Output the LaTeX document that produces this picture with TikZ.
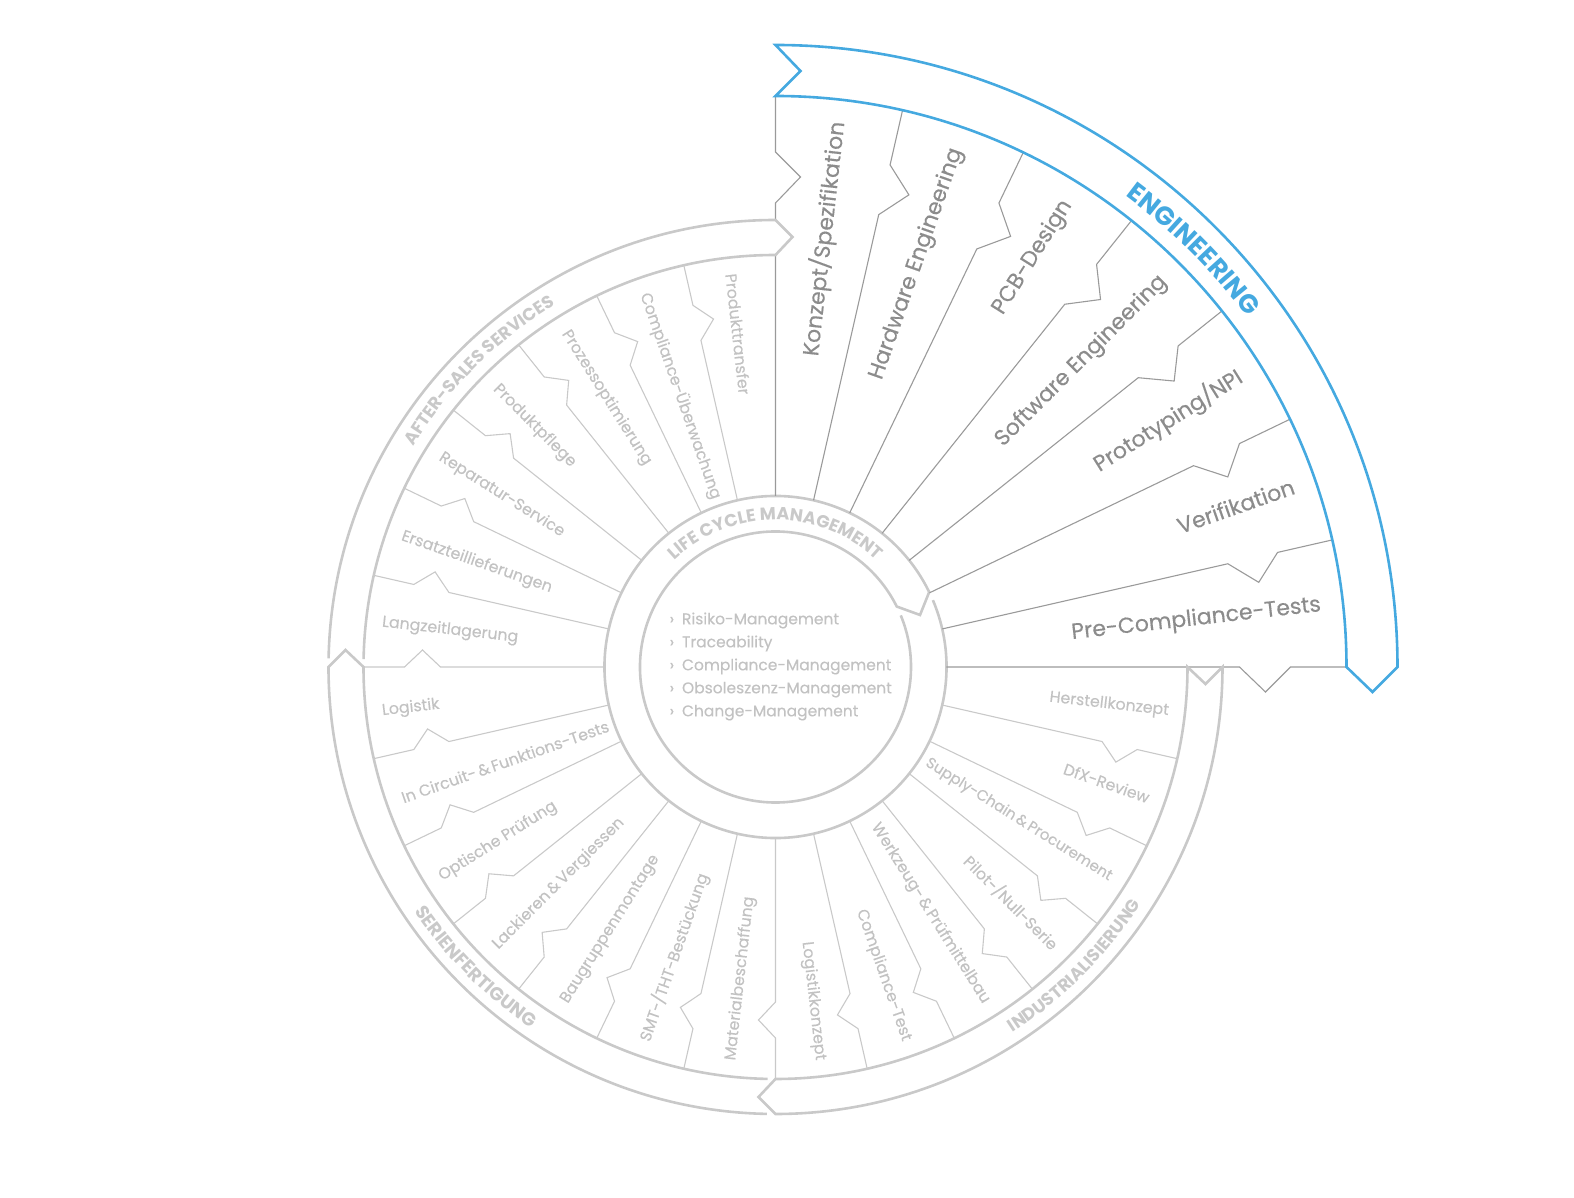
\documentclass[tikz,border=0pt]{standalone}
\usepackage{fontspec}
\setmainfont{Poppins}
\newfontfamily\medfont{Poppins}[FakeBold=0.35]
\usetikzlibrary{decorations.text, calc}
\definecolor{eblue}{HTML}{45A9E0}
\definecolor{etext}{HTML}{8C8C8C}
\definecolor{erl}{HTML}{9A9A9A}
\definecolor{gtext}{HTML}{C2C2C2}
\definecolor{rule}{HTML}{C9C9C9}
\newcommand{\amp}{\hspace{2.5pt}\&\hspace{2.5pt}}

\begin{document}
\begin{tikzpicture}[
  x=1pt, y=1pt,
  band/.style ={draw=rule, line width=2.6pt, line join=miter},
  eband/.style={draw=eblue, line width=2.6pt, line join=miter},
  erule/.style={draw=erl, line width=1.1pt},
  grule/.style={draw=rule, line width=1.1pt},
  elbl/.style ={font=\medfont\fontsize{22}{26}\selectfont, text=etext, inner sep=0pt},
  glbl/.style ={font=\medfont\fontsize{15.8}{19}\selectfont, text=gtext, inner sep=0pt},
  ctext/.style={font=\medfont\fontsize{15.5}{23}\selectfont, text=gtext, inner sep=0pt, align=left},
  arctext/.style={decorate, decoration={text along path, text align=center}}
]
\useasboundingbox (-775.5,-531) rectangle (798.5,667);

% life cycle ring, open where the arrow tip comes round
\draw[band] (23:171) arc[start angle=23, end angle=-334, radius=171]
  -- (-340.2:153.6) -- (-333.5:135.5)
  arc[start angle=-333.5, end angle=22.4, radius=135.5];

% dividers of the three grey phases
\foreach \k in {1,...,20}
  \draw[grule, rotate=-90/7*\k] (171,0) -- (335,0) -- (353,-17) -- (371,0) -- (412,0);

% dividers of engineering
\draw[erule, rotate=90] (171,0) -- (412,0) (447,0) -- (464,0) -- (490,-25) -- (515,0) -- (571,0);
\foreach \k in {1,...,7}
  \draw[erule, rotate=90-90/7*\k] (171,0) -- (464,0) -- (490,-25) -- (515,0) -- (571,0);

% phase bands
\draw[eband] (90:622) arc[start angle=90, end angle=0, radius=622] -- (597,-25)
  -- (0:571) arc[start angle=0, end angle=90, radius=571] -- (25,596) -- cycle;
\draw[band] (0:447) arc[start angle=0, end angle=-90, radius=447] -- (-17,-430)
  -- (-90:412) arc[start angle=-90, end angle=0, radius=412] -- (430,-17) -- cycle;
\draw[band] (-91.1:447) arc[start angle=-91.1, end angle=-180, radius=447] -- (-430,17)
  -- (-180:412) arc[start angle=-180, end angle=-91.1, radius=412];
\draw[band] (178.9:447) arc[start angle=178.9, end angle=90, radius=447] -- (17,430)
  -- (90:412) arc[start angle=90, end angle=178.9, radius=412];

% phase titles
\path[arctext, decoration={text={|\color{eblue}\bfseries\fontsize{26}{26}\selectfont|ENGINEERING}}]
  (80:587) arc[start angle=80, end angle=10, radius=587];
\path[arctext, decoration={text={|\color{rule}\bfseries\fontsize{17.5}{17.5}\selectfont|AFTER-SALES SERVICES}}]
  (170:424) arc[start angle=170, end angle=100, radius=424];
\path[arctext, decoration={text={|\color{rule}\bfseries\fontsize{17.5}{17.5}\selectfont|INDUSTRIALISIERUNG}}]
  (-80:436) arc[start angle=-80, end angle=-10, radius=436];
\path[arctext, decoration={text={|\color{rule}\bfseries\fontsize{18.5}{18.5}\selectfont|SERIENFERTIGUNG}}]
  (-170:436) arc[start angle=-170, end angle=-100, radius=436];
\path[arctext, decoration={text={|\color{rule}\bfseries\fontsize{17.5}{17.5}\selectfont|LIFE CYCLE MANAGEMENT}}]
  (150:147) arc[start angle=150, end angle=30, radius=147];

% engineering
\node[elbl, rotate=83.57, anchor=east] (konzept)  at (83.57:549) {Konzept/Spezifikation};
\node[elbl, rotate=70.71, anchor=east] (hardware) at (70.71:549) {Hardware Engineering};
\node[elbl, rotate=57.86, anchor=east] (pcb)      at (57.86:549) {PCB-Design};
\node[elbl, rotate=45,    anchor=east] (software) at (45:549)    {Software Engineering};
\node[elbl, rotate=32.14, anchor=east] (proto)    at (32.14:549) {Prototyping/NPI};
\node[elbl, rotate=19.29, anchor=east] (verif)    at (19.29:549) {Verifikation};
\node[elbl, rotate=6.43,  anchor=east] (precomp)  at (6.43:549)  {Pre-Compliance-Tests};

% industrialisierung
\node[glbl, rotate=-6.43,  anchor=east] (herstell) at (-6.43:396)  {Herstellkonzept};
\node[glbl, rotate=-19.29, anchor=east] (dfx)      at (-19.29:396) {DfX-Review};
\node[glbl, rotate=-32.14, anchor=east, font=\medfont\fontsize{15}{18}\selectfont]
  (supply) at (-32.14:396) {Supply-Chain\amp Procurement};
\node[glbl, rotate=-45,    anchor=east] (pilot)    at (-45:396)    {Pilot-/Null-Serie};
\node[glbl, rotate=-57.86, anchor=east] (werkzeug) at (-57.86:396) {Werkzeug-\amp Prüfmittelbau};
\node[glbl, rotate=-70.71, anchor=east] (comptest) at (-70.71:396) {Compliance-Test};
\node[glbl, rotate=-83.57, anchor=east] (logkon)   at (-83.57:396) {Logistikkonzept};

% serienfertigung
\node[glbl, rotate=83.57, anchor=west] (material) at (-96.43:396)  {Materialbeschaffung};
\node[glbl, rotate=70.71, anchor=west] (smt)      at (-109.29:396) {SMT-/THT-Bestückung};
\node[glbl, rotate=57.86, anchor=west] (baugr)    at (-122.14:396) {Baugruppenmontage};
\node[glbl, rotate=45,    anchor=west] (lack)     at (-135:396)    {Lackieren\amp Vergiessen};
\node[glbl, rotate=32.14, anchor=west] (optisch)  at (-147.86:396) {Optische Prüfung};
\node[glbl, rotate=19.29, anchor=west] (incirc)   at (-160.71:396) {In Circuit-\amp Funktions-Tests};
\node[glbl, rotate=6.43,  anchor=west] (logistik) at (-173.57:396) {Logistik};

% after-sales
\node[glbl, rotate=-6.43,  anchor=west] (lager)    at (173.57:396) {Langzeitlagerung};
\node[glbl, rotate=-19.29, anchor=west] (ersatz)   at (160.71:396) {Ersatzteillieferungen};
\node[glbl, rotate=-32.14, anchor=west] (repar)    at (147.86:396) {Reparatur-Service};
\node[glbl, rotate=-45,    anchor=west] (pflege)   at (135:396)    {Produktpflege};
\node[glbl, rotate=-57.86, anchor=west] (prozess)  at (122.14:396) {Prozessoptimierung};
\node[glbl, rotate=-70.71, anchor=west] (compuew)  at (109.29:396) {Compliance-Überwachung};
\node[glbl, rotate=-83.57, anchor=west] (transfer) at (96.43:396)  {Produkttransfer};

% centre
\node[ctext, anchor=west] (lcm) at (-106,0.5)
  {›\hspace{8pt}Risiko-Management\\
   ›\hspace{8pt}Traceability\\
   ›\hspace{8pt}Compliance-Management\\
   ›\hspace{8pt}Obsoleszenz-Management\\
   ›\hspace{8pt}Change-Management};

\end{tikzpicture}
\end{document}
